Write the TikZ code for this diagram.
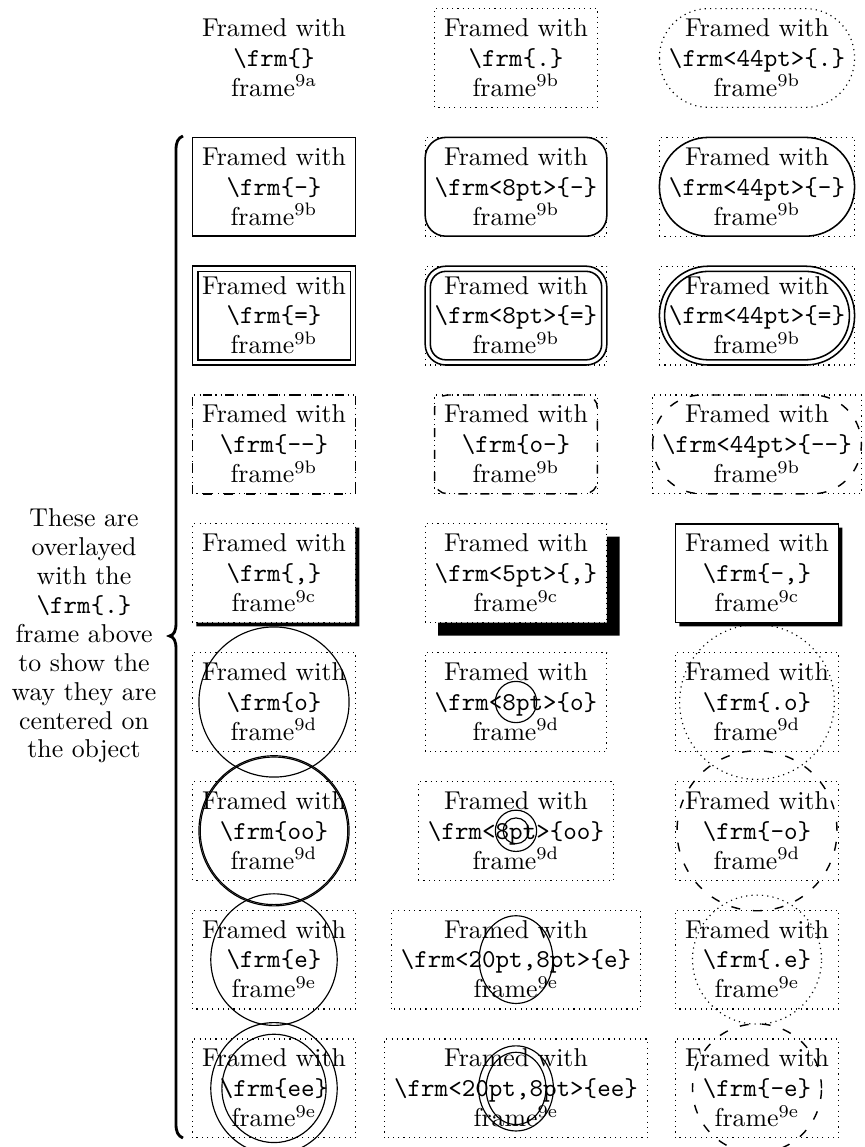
\documentclass[tikz,border=0pt]{standalone}
\newcommand\celltext[2]{\rule{0pt}{9.5pt}Framed with\\\texttt{\textbackslash frm#1}\\frame$^{\mathrm{#2}}$\rule[-3pt]{0pt}{3pt}}
\newcommand\myshadowL[2]{\fill ([xshift=#2]#1.south west) -- (#1.south east) -- ([yshift=-#2]#1.north east) -- ([shift={(#2,-#2)}]#1.north east) -- ([shift={(#2,-#2)}]#1.south east) -- ([shift={(#2,-#2)}]#1.south west) -- cycle;}
\newcommand\myrectfrm[2]{\draw[#2] (#1.south west) rectangle (#1.north east);}
\newcommand\myinnerfrm[2]{\draw[#2] ([shift={(2pt,2pt)}]#1.south west) rectangle ([shift={(-2pt,-2pt)}]#1.north east);}
\tikzset{
  cell/.style={align=center, inner xsep=3.5pt, inner ysep=1.1pt, font=\fontsize{10}{11.6}\selectfont},
  dotfrm/.style={line width=0.45pt, dash pattern=on 0.45pt off 1.6pt},
  solidfrm/.style={line width=0.6pt},
  dashfrm/.style={line width=0.55pt, dash pattern=on 3.5pt off 5pt},
  thinfrm/.style={line width=0.45pt},
}
\begin{document}
\begin{tikzpicture}[x=0.3876pt,y=-0.3876pt]
\useasboundingbox (0,0) rectangle (864,1147);
% row 0
\node[cell] (a0) at (274,58) {\celltext{\{\}}{9a}};
\node[cell] (b0) at (516,58) {\celltext{\{.\}}{9b}};
\node[cell] (c0) at (757,58) {\celltext{<44pt>\{.\}}{9b}};
% row 1
\node[cell] (a1) at (274,186.8) {\celltext{\{-\}}{9b}};
\node[cell] (b1) at (516,186.8) {\celltext{<8pt>\{-\}}{9b}};
\node[cell] (c1) at (757,186.8) {\celltext{<44pt>\{-\}}{9b}};
% row 2
\node[cell] (a2) at (274,315.6) {\celltext{\{=\}}{9b}};
\node[cell] (b2) at (516,315.6) {\celltext{<8pt>\{=\}}{9b}};
\node[cell] (c2) at (757,315.6) {\celltext{<44pt>\{=\}}{9b}};
% row 3
\node[cell] (a3) at (274,444.4) {\celltext{\{-{}-\}}{9b}};
\node[cell] (b3) at (516,444.4) {\celltext{\{o-\}}{9b}};
\node[cell] (c3) at (757,444.4) {\celltext{<44pt>\{-{}-\}}{9b}};
% row 4
\node[cell] (a4) at (274,573.2) {\celltext{\{,\}}{9c}};
\node[cell] (b4) at (516,573.2) {\celltext{<5pt>\{,\}}{9c}};
\node[cell] (c4) at (757,573.2) {\celltext{\{-,\}}{9c}};
% row 5
\node[cell] (a5) at (274,702) {\celltext{\{o\}}{9d}};
\node[cell] (b5) at (516,702) {\celltext{<8pt>\{o\}}{9d}};
\node[cell] (c5) at (757,702) {\celltext{\{.o\}}{9d}};
% row 6
\node[cell] (a6) at (274,830.8) {\celltext{\{oo\}}{9d}};
\node[cell] (b6) at (516,830.8) {\celltext{<8pt>\{oo\}}{9d}};
\node[cell] (c6) at (757,830.8) {\celltext{\{-o\}}{9d}};
% row 7
\node[cell] (a7) at (274,959.6) {\celltext{\{e\}}{9e}};
\node[cell] (b7) at (516,959.6) {\celltext{<20pt,8pt>\{e\}}{9e}};
\node[cell] (c7) at (757,959.6) {\celltext{\{.e\}}{9e}};
% row 8
\node[cell] (a8) at (274,1088.4) {\celltext{\{ee\}}{9e}};
\node[cell] (b8) at (516,1088.4) {\celltext{<20pt,8pt>\{ee\}}{9e}};
\node[cell] (c8) at (757,1088.4) {\celltext{\{-e\}}{9e}};

% note and brace
\node[align=center, inner sep=0pt, font=\fontsize{10}{11.2}\selectfont] (note) at (84,636)
  {These are\\overlayed\\with the\\\texttt{\textbackslash frm\{.\}}\\frame above\\to show the\\way they are\\centered on\\the object};
\draw[line width=1.1pt] (183,136) .. controls (178,138) and (176,142) .. (176,150) -- (176,623)
  .. controls (176,631) and (174,635) .. (169.5,636) .. controls (174,637) and (176,641) .. (176,649)
  -- (176,1124) .. controls (176,1132) and (178,1136) .. (183,1138);

% dotted reference frames
\foreach \n in {b0,a1,b1,c1,a2,b2,c2,a3,b3,c3,a4,b4,c4,a5,b5,c5,a6,b6,c6,a7,b7,c7,a8,b8,c8}
  {\myrectfrm{\n}{dotfrm}}
\draw[dotfrm, rounded corners=19pt] (c0.south west) rectangle (c0.north east);

% row 1
\myrectfrm{a1}{solidfrm}
\draw[solidfrm, rounded corners=8pt] (b1.south west) rectangle (b1.north east);
\draw[solidfrm, rounded corners=19pt] (c1.south west) rectangle (c1.north east);
% row 2
\myrectfrm{a2}{solidfrm}
\myinnerfrm{a2}{solidfrm}
\draw[solidfrm, rounded corners=8pt] (b2.south west) rectangle (b2.north east);
\myinnerfrm{b2}{solidfrm, rounded corners=6pt}
\draw[solidfrm, rounded corners=19pt] (c2.south west) rectangle (c2.north east);
\myinnerfrm{c2}{solidfrm, rounded corners=17pt}
% row 3
\myrectfrm{a3}{dashfrm}
\draw[dashfrm, rounded corners=5pt] (b3.south west) rectangle (b3.north east);
\draw[dashfrm, rounded corners=19pt] (c3.south west) rectangle (c3.north east);
% row 4
\myshadowL{a4}{1.5pt}
\myshadowL{b4}{5pt}
\myrectfrm{c4}{solidfrm}
\myshadowL{c4}{1.5pt}
% row 5
\draw[thinfrm] (a5.center) circle[radius=29.1pt];
\draw[thinfrm] (b5.center) circle[radius=8pt];
\draw[dotfrm] (c5.center) circle[radius=30pt];
% row 6
\draw[thinfrm] (a6.center) circle[radius=29.1pt];
\draw[thinfrm] (a6.center) circle[radius=28.6pt];
\draw[thinfrm] (b6.center) circle[radius=8pt];
\draw[thinfrm] (b6.center) circle[radius=5pt];
\draw[dashfrm] (c6.center) circle[radius=31pt];
% row 7
\draw[thinfrm] (a7.center) ellipse[x radius=24.5pt, y radius=25.5pt];
\draw[thinfrm] (b7.center) ellipse[x radius=14.3pt, y radius=17pt];
\draw[dotfrm] (c7.center) circle[radius=25pt];
% row 8
\draw[thinfrm] (a8.center) ellipse[x radius=24.5pt, y radius=25.5pt];
\draw[thinfrm] (a8.center) ellipse[x radius=20.2pt, y radius=21pt];
\draw[thinfrm] (b8.center) ellipse[x radius=14.5pt, y radius=16.5pt];
\draw[thinfrm] (b8.center) ellipse[x radius=11.6pt, y radius=14pt];
\draw[dashfrm] (c8.center) circle[radius=25pt];
\end{tikzpicture}
\end{document}
